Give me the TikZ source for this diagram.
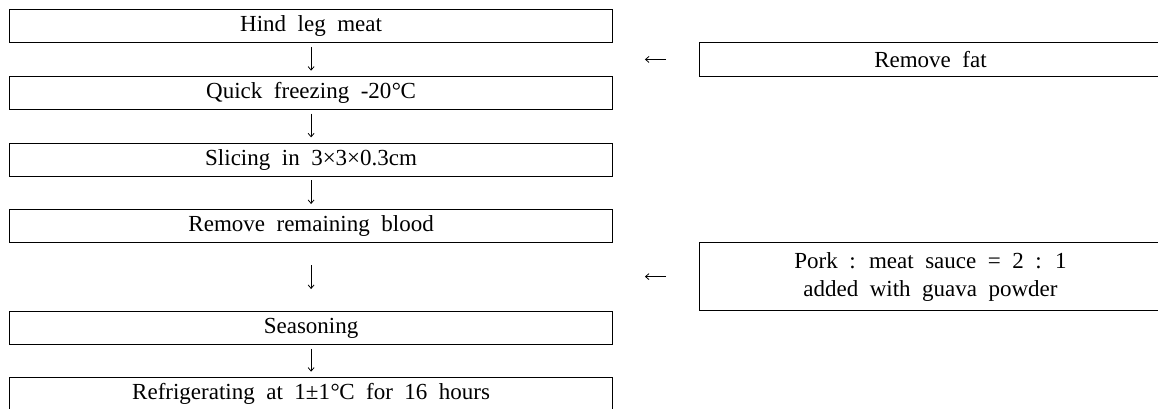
\documentclass[tikz,border=0pt]{standalone}
\usepackage{fontspec}
\setmainfont{Liberation Serif}[WordSpace=2]
\usetikzlibrary{arrows.meta,calc}
\newcommand{\degc}{\kern0.5pt°\kern-0.5ptC}
\begin{document}
\begin{tikzpicture}[x=1pt,y=-1pt,
  stepbox/.style={draw=black,line width=0.9pt,minimum width=602.7pt,minimum height=33pt,
    inner sep=0pt,anchor=north west,font=\fontsize{23}{28}\selectfont},
  sidebox/.style={draw=black,line width=0.9pt,minimum width=462pt,
    inner sep=0pt,anchor=north west,font=\fontsize{23}{28}\selectfont,align=center},
  flow/.style={line width=0.8pt,-{Straight Barb[length=3.5pt,width=6pt]}}]
\useasboundingbox (0,0) rectangle (1158,409);
\clip (0,0) rectangle (1158,409);

% main process chain
\node[stepbox] (b1) at (9.3,9.3)   {Hind leg meat};
\node[stepbox] (b2) at (9.3,76)    {Quick freezing -20\degc};
\node[stepbox] (b3) at (9.3,142.7) {Slicing in 3×3×0.3cm};
\node[stepbox] (b4) at (9.3,209.3) {Remove remaining blood};
\node[stepbox] (b5) at (9.3,311)   {Seasoning};
\node[stepbox] (b6) at (9.3,377)   {Refrigerating at 1±1\degc{} for 16 hours};

% added inputs
\node[sidebox,minimum height=33.4pt] (rf) at (699,42.3) {Remove fat};
\node[sidebox,minimum height=67.7pt] (ps) at (699,242.3)
  {Pork : meat sauce = 2 : 1\\added with guava powder};

% entry points on the main chain
\coordinate (m1) at (b1.south east |- rf.west);
\coordinate (m2) at (b4.south east |- ps.west);

\draw[flow,shorten <=3.7pt,shorten >=5.3pt] (b1.south) -- (b2.north);
\draw[flow,shorten <=3.7pt,shorten >=5.3pt] (b2.south) -- (b3.north);
\draw[flow,shorten <=3.7pt,shorten >=5.3pt] (b3.south) -- (b4.north);
\draw[flow,shorten <=22pt,shorten >=22pt]   (b4.south) -- (b5.north);
\draw[flow,shorten <=3.7pt,shorten >=5.3pt] (b5.south) -- (b6.north);

\draw[flow,shorten <=33pt,shorten >=32pt] (rf.west) -- (m1);
\draw[flow,shorten <=33pt,shorten >=32pt] (ps.west) -- (m2);
\end{tikzpicture}
\end{document}
